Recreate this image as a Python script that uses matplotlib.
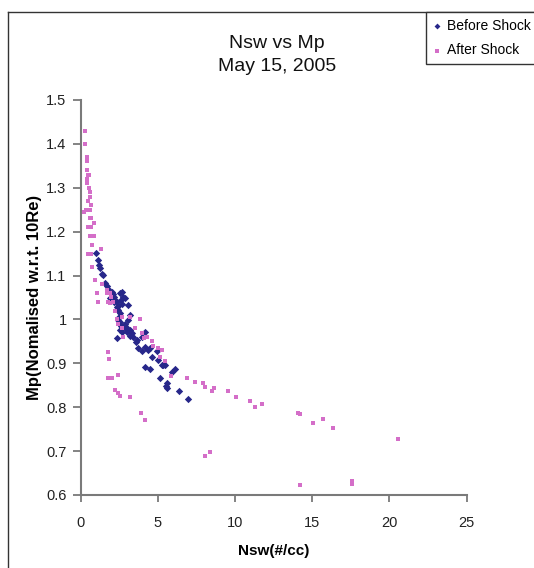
import matplotlib
matplotlib.use('Agg')
import matplotlib.pyplot as plt
from matplotlib.lines import Line2D

plt.rcParams['font.family'] = ['Liberation Sans', 'DejaVu Sans']

# ---- data ----
before_x = [0.98, 1.15, 1.22, 1.26, 1.37, 1.48, 1.59, 1.70, 1.80, 2.02, 2.10, 1.91, 2.23, 2.34,
            2.56, 2.67, 2.77, 2.88, 2.34, 2.45, 2.56, 3.10, 3.21, 2.45, 2.56, 3.10, 2.56, 2.88,
            2.99, 3.21, 3.32, 3.21, 2.34, 2.69, 3.64, 3.59, 4.18, 3.96, 3.74, 3.96, 4.18, 4.39,
            4.50, 4.61, 4.94, 5.04, 5.26, 5.47, 4.18, 4.50, 5.15, 5.58, 5.58, 5.91, 6.12, 6.40,
            6.98, 5.36, 5.52, 2.20, 2.40, 2.60, 2.70, 2.50, 2.90, 3.00, 3.40, 2.15, 2.62]
before_y = [1.152, 1.136, 1.124, 1.117, 1.104, 1.101, 1.082, 1.076, 1.069, 1.063, 1.058, 1.048,
            1.044, 1.040, 1.060, 1.063, 1.052, 1.049, 1.029, 1.022, 1.014, 1.033, 1.010, 0.999,
            0.994, 0.999, 0.976, 0.980, 0.972, 0.976, 0.969, 0.962, 0.957, 0.972, 0.953, 0.948,
            0.972, 0.961, 0.934, 0.927, 0.938, 0.931, 0.934, 0.915, 0.927, 0.908, 0.896, 0.896,
            0.892, 0.887, 0.866, 0.855, 0.843, 0.881, 0.887, 0.836, 0.819, 0.897, 0.849, 1.050,
            1.030, 1.045, 1.035, 1.005, 0.990, 0.980, 0.960, 1.040, 0.985]

after_x = [0.31, 0.31, 0.44, 0.42, 0.42, 0.51, 0.57, 0.44, 0.42, 0.55, 0.62, 0.62, 0.49, 0.66,
           0.36, 0.62, 0.23, 0.66, 0.62, 0.89, 0.47, 0.68, 0.89, 0.62, 0.73, 0.47, 0.68, 1.31,
           0.73, 0.94, 1.37, 1.09, 1.15, 1.70, 1.91, 1.80, 2.12, 2.23, 2.34, 2.45, 2.67, 2.77,
           3.85, 3.53, 3.96, 4.29, 4.61, 4.72, 5.04, 5.26, 5.15, 5.47, 1.80, 1.87, 1.80, 2.02,
           2.45, 2.23, 2.45, 2.56, 3.21, 3.90, 4.18, 5.86, 6.90, 7.44, 7.91, 8.08, 8.51, 8.62,
           9.55, 10.09, 10.99, 11.31, 11.75, 14.07, 14.22, 15.09, 15.73, 16.38, 20.58, 14.22,
           17.56, 17.56, 8.08, 8.36, 1.70, 1.91, 2.67, 3.21, 4.10, 1.95]
after_y = [1.430, 1.400, 1.370, 1.360, 1.340, 1.330, 1.330, 1.320, 1.310, 1.300, 1.290, 1.280,
           1.270, 1.260, 1.250, 1.250, 1.245, 1.230, 1.230, 1.220, 1.210, 1.210, 1.190, 1.190,
           1.170, 1.150, 1.150, 1.160, 1.120, 1.090, 1.080, 1.060, 1.040, 1.060, 1.060, 1.040,
           1.040, 1.020, 1.000, 0.990, 0.980, 0.960, 1.000, 0.980, 0.970, 0.960, 0.950, 0.940,
           0.935, 0.930, 0.915, 0.905, 0.925, 0.910, 0.866, 0.867, 0.874, 0.840, 0.833, 0.826,
           0.824, 0.786, 0.770, 0.870, 0.867, 0.857, 0.855, 0.846, 0.838, 0.843, 0.837, 0.824,
           0.814, 0.801, 0.808, 0.786, 0.784, 0.764, 0.773, 0.753, 0.727, 0.623, 0.625, 0.632,
           0.689, 0.697, 1.067, 1.037, 1.006, 1.006, 0.958, 1.050]

series_names = ["Before Shock", "After Shock"]
title_text = "Nsw vs Mp\nMay 15, 2005"
x_label = "Nsw(#/cc)"
y_label = "Mp(Nomalised w.r.t. 10Re)"
x_ticks = [0, 5, 10, 15, 20, 25]
y_ticks = [0.6, 0.7, 0.8, 0.9, 1.0, 1.1, 1.2, 1.3, 1.4, 1.5]
y_tick_labels = ["0.6", "0.7", "0.8", "0.9", "1", "1.1", "1.2", "1.3", "1.4", "1.5"]

navy = '#27278A'
pink = '#D46EC8'
axis_col = '#7a7a7a'

W, H = 534, 568
fig = plt.figure(figsize=(W / 100, H / 100), dpi=100)
fig.patch.set_facecolor('white')

ax = fig.add_axes([80.5 / W, 1 - 495 / H, (466.5 - 80.5) / W, (495 - 100) / H])
ax.scatter(before_x, before_y, marker='D', s=14, color=navy, linewidths=0,
           label=series_names[0], zorder=3)
ax.scatter(after_x, after_y, marker='s', s=12, color=pink, linewidths=0,
           label=series_names[1], zorder=4)

ax.set_xlim(0, 25)
ax.set_ylim(0.6, 1.5)
ax.set_xticks(x_ticks)
ax.set_yticks(y_ticks)
ax.set_yticklabels(y_tick_labels)
for s in ['top', 'right']:
    ax.spines[s].set_visible(False)
for s in ['left', 'bottom']:
    ax.spines[s].set_color(axis_col)
    ax.spines[s].set_linewidth(1.5)
ax.tick_params(axis='y', direction='out', length=6, width=1.3, color=axis_col,
               labelsize=10.5, labelcolor='#222222', pad=4)
ax.tick_params(axis='x', direction='out', length=5, width=1.3, color=axis_col,
               labelsize=10.5, labelcolor='#222222', pad=10)

ax.set_xlabel(x_label, fontsize=11, fontweight='bold', labelpad=10)
ax.set_ylabel(y_label, fontsize=12, fontweight='bold', labelpad=3)

fig.text(277 / W, 1 - 55 / H, title_text, ha='center', va='center',
         fontsize=14, linespacing=1.5, color='#111111')

# outer chart frame (clipped at right and bottom in the reference)
fig.add_artist(Line2D([8 / W, 8 / W], [0, 1 - 12 / H], transform=fig.transFigure,
                      color='#333333', lw=1))
fig.add_artist(Line2D([8 / W, 1], [1 - 12 / H, 1 - 12 / H], transform=fig.transFigure,
                      color='#333333', lw=1))

leg = fig.legend(loc='upper left', bbox_to_anchor=(426 / W, 1 - 12 / H),
                 frameon=True, fancybox=False, edgecolor='#333333', framealpha=1,
                 fontsize=10, handlelength=0.6, handletextpad=0.4,
                 borderpad=0.5, labelspacing=0.75, borderaxespad=0, markerscale=0.8)
leg.get_frame().set_linewidth(1)

fig.savefig('out.png', dpi=100)
